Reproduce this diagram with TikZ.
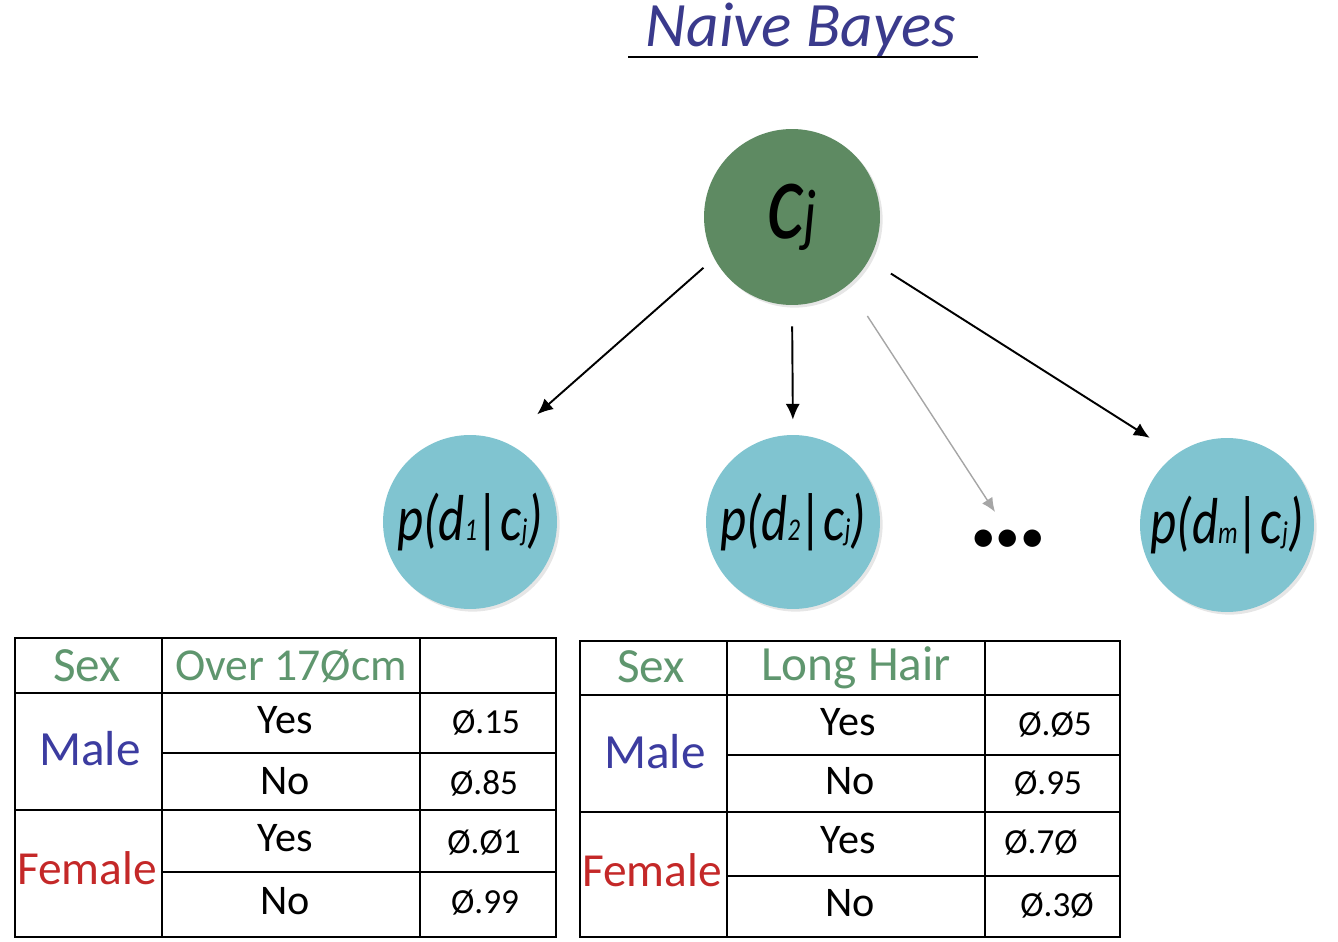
\documentclass[tikz,border=0pt]{standalone}
\usepackage{fontspec}
\setmainfont{Carlito}
\newfontfamily\circfont[FakeStretch=0.78]{Carlito}
\usetikzlibrary{arrows.meta, shadows}
\definecolor{verdeNodo}{HTML}{5E8A62}
\definecolor{azulNodo}{HTML}{80C4D0}
\definecolor{azulTitulo}{HTML}{3A3A8C}
\definecolor{verdeTexto}{HTML}{5F966E}
\definecolor{azulTexto}{HTML}{3C3CA0}
\definecolor{rojoTexto}{HTML}{C42828}
\newcommand{\indice}[1]{{\fontsize{18}{18}\selectfont #1}}

\begin{document}
\begin{tikzpicture}[
  x=0.02cm, y=-0.02cm,
  % Estilos de nodos
  nodoClase/.style={
    circle, fill=verdeNodo, minimum size=3.52cm, inner sep=0pt,
    font=\circfont\itshape\fontsize{64}{64}\selectfont,
    drop shadow={shadow xshift=1.5pt, shadow yshift=-1.5pt, opacity=0.2}
  },
  nodoProb/.style={
    circle, fill=azulNodo, minimum size=3.48cm, inner sep=0pt,
    font=\circfont\itshape\fontsize{37}{37}\selectfont,
    drop shadow={shadow xshift=1.5pt, shadow yshift=-1.5pt, opacity=0.2}
  },
  textoCab/.style={text=verdeTexto, font=\fontsize{28}{28}\selectfont},
  textoHombre/.style={text=azulTexto, font=\fontsize{28}{28}\selectfont},
  textoMujer/.style={text=rojoTexto, font=\fontsize{27}{27}\selectfont},
  textoCelda/.style={font=\fontsize{24}{24}\selectfont},
  textoValor/.style={font=\fontsize{20}{20}\selectfont},
  lineaTabla/.style={line width=1.4pt},
  % Estilo de flechas
  flecha/.style={
    -{Latex[length=9pt, width=8pt]}, line width=1.1pt
  },
  flechaGris/.style={
    -{Latex[length=8pt, width=7pt]}, line width=0.8pt, draw=gray!70
  }
]
\useasboundingbox (0,0) rectangle (1338,942);

% --- Título ---
\node[font=\itshape\fontsize{36}{36}\selectfont, text=azulTitulo, anchor=base]
  (titulo) at (801, 47) {Naive Bayes};
\draw[line width=1.6pt] (628, 57) -- (978, 57);

% --- Nodo clase ---
\node[nodoClase] (clase) at (792, 217) {c{\fontsize{40}{40}\selectfont j}};

% --- Nodos de probabilidad ---
\node[nodoProb] (prob1) at (470, 522) {p(d\indice{1}|c\indice{j})};
\node[nodoProb] (prob2) at (793, 522) {p(d\indice{2}|c\indice{j})};
\node[nodoProb] (probM) at (1227, 525) {p(d\indice{m}|c\indice{j})};
\node[font=\fontsize{28}{28}\selectfont, inner sep=0pt]
  (puntos) at (1008, 541) {\textbullet\textbullet\textbullet};
\coordinate (finPuntos) at (995, 512);

% --- Flechas ---
\draw[flecha, shorten <=8pt, shorten >=24pt] (clase.208) -- (prob1.66);
\draw[flecha, shorten <=12pt, shorten >=8.5pt] (clase.south) -- (prob2.north);
\draw[flechaGris, shorten <=20.6pt] (clase.309) -- (finPuntos);
\draw[flecha, shorten <=14.6pt, shorten >=17.5pt] (clase.331) -- (probM.126);

% --- Tabla 1: altura ---
\draw[lineaTabla] (15, 638) rectangle (556, 937);
\draw[lineaTabla] (162, 638) -- (162, 937);
\draw[lineaTabla] (420, 638) -- (420, 937);
\draw[lineaTabla] (15, 693) -- (556, 693);
\draw[lineaTabla] (162, 753) -- (556, 753);
\draw[lineaTabla] (15, 810) -- (556, 810);
\draw[lineaTabla] (162, 872) -- (556, 872);

\node[textoCab] (sexoA) at (87, 666) {Sex};
\node[textoCab, font=\fontsize{26}{26}\selectfont] (alturaA) at (291, 666) {Over 17Øcm};
\node[textoHombre] (hombreA) at (90, 749) {Male};
\node[textoMujer] (mujerA) at (87, 868) {Female};
\node[textoCelda] (siHA) at (285, 720) {Yes};
\node[textoCelda] (noHA) at (285, 781) {No};
\node[textoCelda] (siMA) at (285, 838) {Yes};
\node[textoCelda] (noMA) at (285, 901) {No};
\node[textoValor] (valA1) at (486, 723) {Ø.15};
\node[textoValor] (valA2) at (484, 783) {Ø.85};
\node[textoValor] (valA3) at (484, 843) {Ø.Ø1};
\node[textoValor] (valA4) at (485, 903) {Ø.99};

% --- Tabla 2: pelo largo ---
\draw[lineaTabla] (580, 641) rectangle (1120, 937);
\draw[lineaTabla] (727, 641) -- (727, 937);
\draw[lineaTabla] (985, 641) -- (985, 937);
\draw[lineaTabla] (580, 695) -- (1120, 695);
\draw[lineaTabla] (727, 755) -- (1120, 755);
\draw[lineaTabla] (580, 812) -- (1120, 812);
\draw[lineaTabla] (727, 876) -- (1120, 876);

\node[textoCab] (sexoB) at (651, 667) {Sex};
\node[textoCab] (peloB) at (856, 668) {Long Hair};
\node[textoHombre] (hombreB) at (655, 752) {Male};
\node[textoMujer] (mujerB) at (652, 870) {Female};
\node[textoCelda] (siHB) at (848, 722) {Yes};
\node[textoCelda] (noHB) at (850, 781) {No};
\node[textoCelda] (siMB) at (848, 840) {Yes};
\node[textoCelda] (noMB) at (850, 903) {No};
\node[textoValor] (valB1) at (1055, 725) {Ø.Ø5};
\node[textoValor] (valB2) at (1048, 784) {Ø.95};
\node[textoValor] (valB3) at (1041, 843) {Ø.7Ø};
\node[textoValor] (valB4) at (1057, 906) {Ø.3Ø};

\end{tikzpicture}
\end{document}
